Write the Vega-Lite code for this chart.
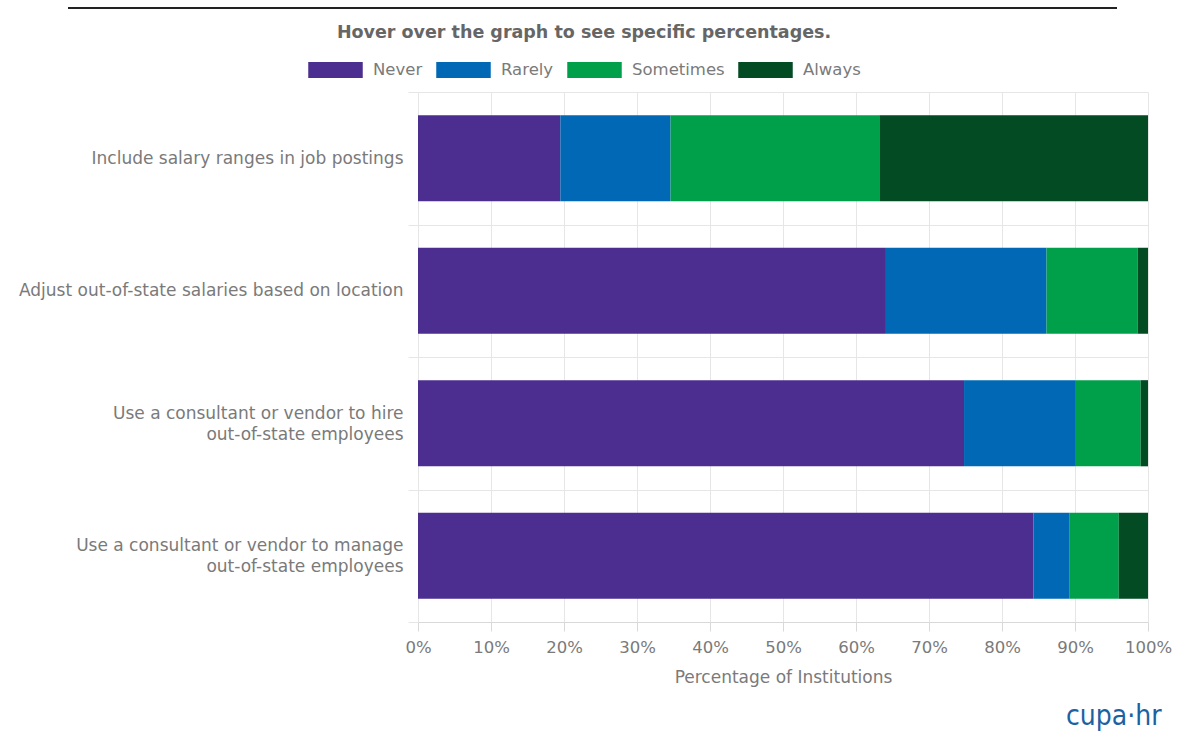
{
  "$schema": "https://vega.github.io/schema/vega-lite/v6.json",
  "autosize": {"type": "none"},
  "padding": {"left": 418, "top": 92, "right": 30, "bottom": 117},
  "width": 730,
  "height": 530,
  "background": "white",
  "view": {"stroke": null},
  "title": {
    "text": "cupa·hr",
    "orient": "bottom",
    "anchor": "end",
    "font": "DejaVu Sans Condensed",
    "fontSize": 28,
    "fontWeight": "normal",
    "color": "#1c62a3",
    "offset": 17,
    "dx": -10
  },
  "data": {
    "values": [
      {"practice": "Include salary ranges in job postings", "response": "Never", "level": 1, "pct": 19.5},
      {"practice": "Include salary ranges in job postings", "response": "Rarely", "level": 2, "pct": 15.1},
      {"practice": "Include salary ranges in job postings", "response": "Sometimes", "level": 3, "pct": 28.6},
      {"practice": "Include salary ranges in job postings", "response": "Always", "level": 4, "pct": 36.8},
      {"practice": "Adjust out-of-state salaries based on location", "response": "Never", "level": 1, "pct": 64.1},
      {"practice": "Adjust out-of-state salaries based on location", "response": "Rarely", "level": 2, "pct": 22.0},
      {"practice": "Adjust out-of-state salaries based on location", "response": "Sometimes", "level": 3, "pct": 12.5},
      {"practice": "Adjust out-of-state salaries based on location", "response": "Always", "level": 4, "pct": 1.4},
      {"practice": "Use a consultant or vendor to hire out-of-state employees", "response": "Never", "level": 1, "pct": 74.8},
      {"practice": "Use a consultant or vendor to hire out-of-state employees", "response": "Rarely", "level": 2, "pct": 15.2},
      {"practice": "Use a consultant or vendor to hire out-of-state employees", "response": "Sometimes", "level": 3, "pct": 9.0},
      {"practice": "Use a consultant or vendor to hire out-of-state employees", "response": "Always", "level": 4, "pct": 1.0},
      {"practice": "Use a consultant or vendor to manage out-of-state employees", "response": "Never", "level": 1, "pct": 84.3},
      {"practice": "Use a consultant or vendor to manage out-of-state employees", "response": "Rarely", "level": 2, "pct": 4.9},
      {"practice": "Use a consultant or vendor to manage out-of-state employees", "response": "Sometimes", "level": 3, "pct": 6.8},
      {"practice": "Use a consultant or vendor to manage out-of-state employees", "response": "Always", "level": 4, "pct": 4.0}
    ]
  },
  "mark": {"type": "bar", "strokeWidth": 0, "height": {"band": 0.65}},
  "encoding": {
    "y": {
      "field": "practice",
      "type": "nominal",
      "sort": null,
      "scale": {"paddingInner": 0, "paddingOuter": 0},
      "axis": {
        "title": null,
        "domain": false,
        "ticks": true,
        "tickBand": "extent",
        "tickSize": 10,
        "tickColor": "#e6e6e6",
        "grid": true,
        "gridColor": "#e6e6e6",
        "labelFont": "DejaVu Sans",
        "labelFontSize": 17,
        "labelColor": "#7a7a7a",
        "labelPadding": 5,
        "labelLimit": 0,
        "labelLineHeight": 21,
        "labelOffset": {"condition": {"test": "indexof('' + datum.value, ' out-of-state employees') > 0", "value": -10}, "value": 0},
        "labelExpr": "indexof(datum.label, ' out-of-state employees') > 0 ? [replace(datum.label, ' out-of-state employees', ''), 'out-of-state employees'] : datum.label"
      }
    },
    "x": {
      "field": "pct",
      "type": "quantitative",
      "stack": "zero",
      "scale": {"domain": [0, 100], "nice": false},
      "axis": {
        "title": "Percentage of Institutions",
        "values": [0, 10, 20, 30, 40, 50, 60, 70, 80, 90, 100],
        "labelExpr": "datum.value + '%'",
        "grid": true,
        "gridColor": "#e6e6e6",
        "domainColor": "#d9d9d9",
        "tickColor": "#d9d9d9",
        "tickSize": 9,
        "labelFont": "DejaVu Sans",
        "labelFontSize": 16.5,
        "labelColor": "#7a7a7a",
        "labelPadding": 8,
        "labelFlush": false,
        "titleFont": "DejaVu Sans",
        "titleFontSize": 17,
        "titleFontWeight": "normal",
        "titleColor": "#7a7a7a",
        "titlePadding": 14
      }
    },
    "color": {
      "field": "response",
      "type": "nominal",
      "scale": {
        "domain": ["Never", "Rarely", "Sometimes", "Always"],
        "range": ["#4b2e8f", "#0068b5", "#00a04b", "#024b23"]
      },
      "legend": {
        "orient": "none",
        "legendX": -110,
        "legendY": -68,
        "direction": "horizontal",
        "title": "Hover over the graph to see specific percentages.",
        "titleFont": "DejaVu Sans",
        "titleFontSize": 17.5,
        "titleFontWeight": "bold",
        "titleColor": "#666666",
        "titleAnchor": "middle",
        "titleLimit": 1000,
        "titlePadding": 1,
        "symbolType": "M-1,-0.29H1V0.29H-1Z",
        "symbolSize": 2970,
        "symbolStrokeWidth": 0,
        "symbolOpacity": 1,
        "labelFont": "DejaVu Sans",
        "labelFontSize": 16.5,
        "labelColor": "#7a7a7a",
        "labelOffset": 10,
        "columnPadding": 13,
        "labelLimit": 300
      }
    },
    "stroke": {
      "field": "pct",
      "type": "quantitative",
      "scale": {"range": ["#222222", "#222222"]},
      "legend": {
        "orient": "none",
        "legendX": -350,
        "legendY": -85,
        "direction": "horizontal",
        "title": null,
        "gradientLength": 1049,
        "gradientThickness": 2,
        "gradientStrokeWidth": 0,
        "labelOpacity": 0,
        "tickCount": 2
      }
    },
    "order": {"field": "level", "type": "quantitative"},
    "tooltip": [
      {"field": "practice", "type": "nominal", "title": "Practice"},
      {"field": "response", "type": "nominal", "title": "Response"},
      {"field": "pct", "type": "quantitative", "title": "Percentage"}
    ]
  }
}
